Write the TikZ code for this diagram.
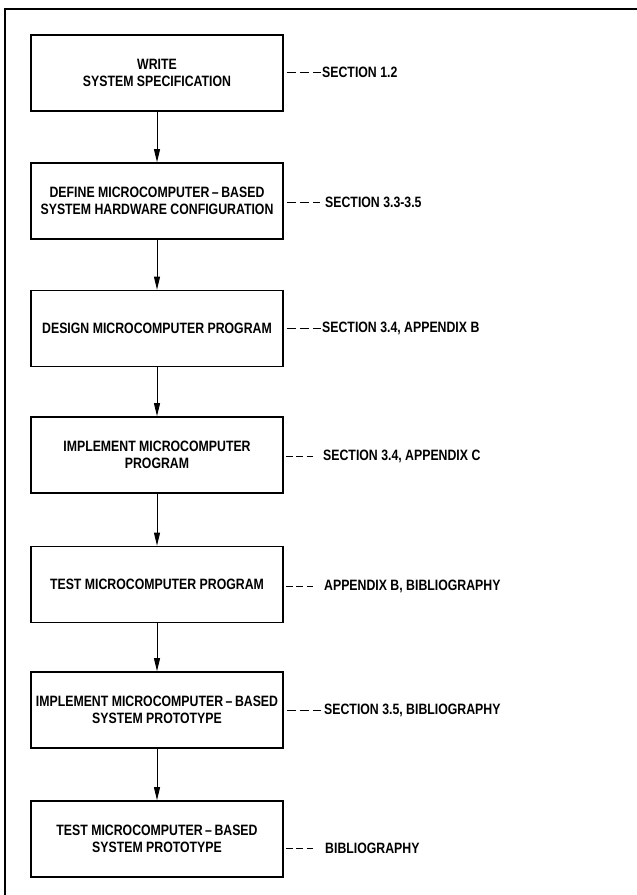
\documentclass[tikz,border=0pt]{standalone}
\usepackage{fontspec}
\setmainfont{Liberation Sans}[FakeStretch=0.82]
\usetikzlibrary{arrows.meta}
\newcommand{\hy}{\,--\,}
\begin{document}
\begin{tikzpicture}[x=1pt,y=-1pt,
  stepbox/.style={draw, line width=1.7pt, minimum width=252pt, minimum height=76pt,
    align=center, font=\fontsize{15}{17.5}\selectfont\bfseries, inner sep=0pt},
  ref/.style={anchor=west, inner sep=0pt, font=\fontsize{15}{16}\selectfont\bfseries},
  flow/.style={line width=0.9pt, -{Triangle[length=13pt,width=6pt]}},
  leader/.style={line width=1pt},
  longdash/.style={leader, dash pattern=on 8.75pt off 4.375pt},
  shortdash/.style={leader, dash pattern=on 7pt off 3.5pt}]
\useasboundingbox (0,0) rectangle (637,895);
% open frame around the chart
\draw[line width=1.6pt] (5,895) -- (5,9) -- (637,9);

% process steps
\node[stepbox] (b1) at (157,73)    {WRITE\\SYSTEM SPECIFICATION};
\node[stepbox] (b2) at (157,201)   {DEFINE MICROCOMPUTER\hy BASED\\SYSTEM HARDWARE CONFIGURATION};
\node[stepbox] (b3) at (157,328.5) {DESIGN MICROCOMPUTER PROGRAM};
\node[stepbox] (b4) at (157,455)   {IMPLEMENT MICROCOMPUTER\\PROGRAM};
\node[stepbox] (b5) at (157,584.5) {TEST MICROCOMPUTER PROGRAM};
\node[stepbox] (b6) at (157,710)   {IMPLEMENT MICROCOMPUTER\hy BASED\\SYSTEM PROTOTYPE};
\node[stepbox] (b7) at (157,839)   {TEST MICROCOMPUTER\hy BASED\\SYSTEM PROTOTYPE};

% references
\node[ref] (l1) at (322,72)  {SECTION 1.2};
\node[ref] (l2) at (325,202) {SECTION 3.3-3.5};
\node[ref] (l3) at (322,328) {SECTION 3.4, APPENDIX B};
\node[ref] (l4) at (323,456) {SECTION 3.4, APPENDIX C};
\node[ref] (l5) at (324,586) {APPENDIX B, BIBLIOGRAPHY};
\node[ref] (l6) at (324,710) {SECTION 3.5, BIBLIOGRAPHY};
\node[ref] (l7) at (325,848) {BIBLIOGRAPHY};

% flow arrows
\foreach \a/\b in {b1/b2,b2/b3,b3/b4,b4/b5,b5/b6,b6/b7}
  \draw[flow] (\a.south) -- (\b.north);

% leader lines to references
\draw[longdash]  ([xshift=3pt]b1.east |- l1.west) -- ([xshift=-1pt]l1.west);
\draw[longdash]  ([xshift=3pt]b2.east |- l2.west) -- ([xshift=-5pt]l2.west);
\draw[longdash]  ([xshift=3pt]b3.east |- l3.west) -- ([xshift=-1pt]l3.west);
\draw[shortdash] ([xshift=2pt]b4.east |- l4.west) -- ([xshift=-10pt]l4.west);
\draw[shortdash] ([xshift=2pt]b5.east |- l5.west) -- ([xshift=-11pt]l5.west);
\draw[longdash]  ([xshift=3pt]b6.east |- l6.west) -- ([xshift=-3pt]l6.west);
\draw[shortdash] ([xshift=2pt]b7.east |- l7.west) -- ([xshift=-12pt]l7.west);
\end{tikzpicture}
\end{document}
